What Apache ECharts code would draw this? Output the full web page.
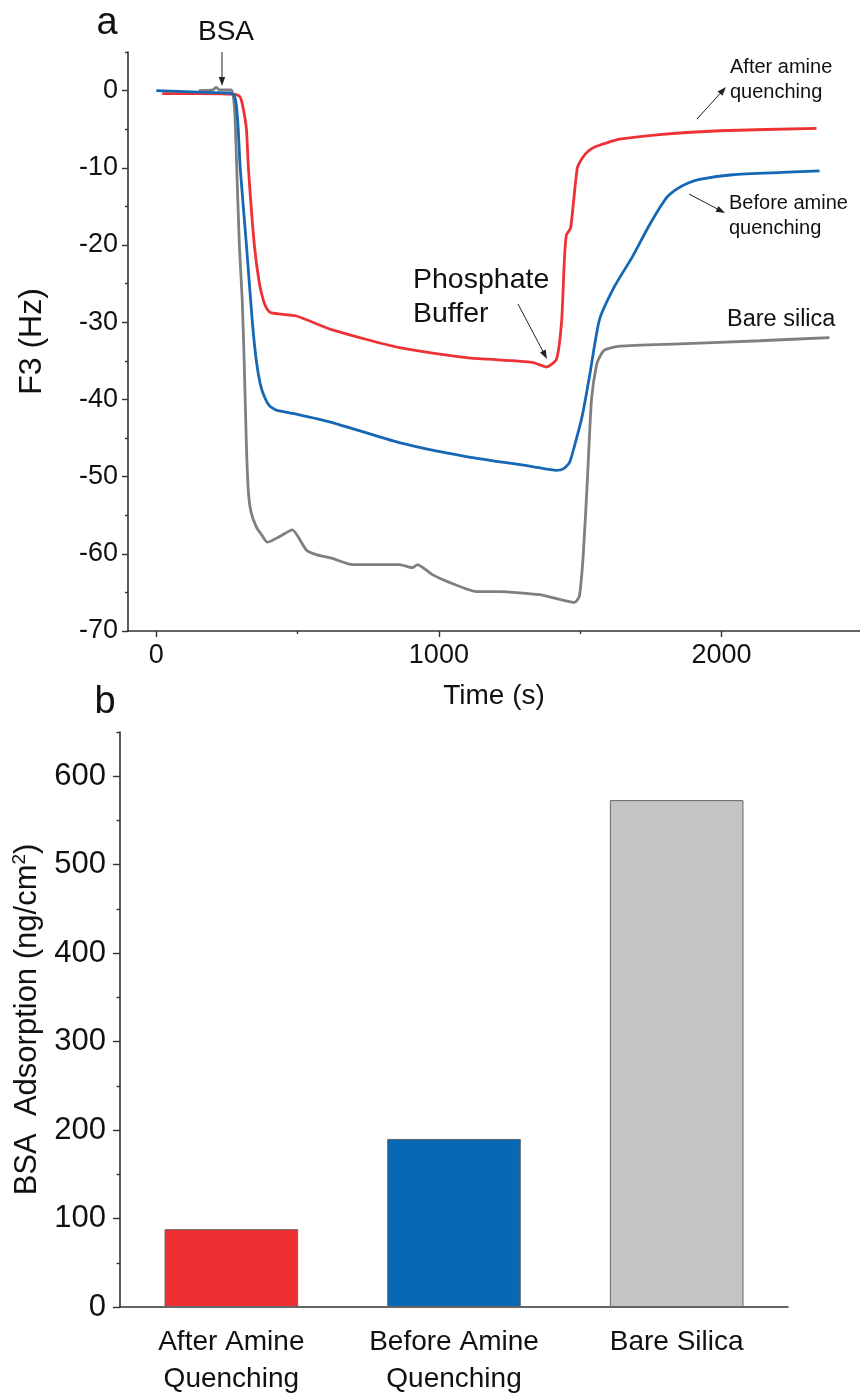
<!DOCTYPE html>
<html>
<head>
<meta charset="utf-8">
<script src="https://cdn.jsdelivr.net/npm/echarts@6/dist/echarts.min.js"></script>
<style>
  html, body { margin: 0; padding: 0; background: #fff; }
  #main { width: 860px; height: 1399px; }
</style>
</head>
<body>
<div id="main"></div>
<script>
// panel a: QCM-D frequency shift, time (s) vs F3 (Hz)
var redTime  = [21, 152, 280, 296, 306, 319, 326, 347, 365, 380, 392, 407, 496, 623, 860, 1097, 1331, 1381, 1416, 1434, 1444, 1451, 1466, 1490, 1510, 1530, 1551, 1600, 1639, 1781, 1993, 2336];
var redF3    = [-0.4, -0.4, -0.5, -0.8, -2.0, -5, -10, -20, -25, -27.3, -28.3, -28.8, -29.2, -31, -33.3, -34.6, -35.2, -35.8, -34.8, -30, -22, -18.7, -17.8, -10, -8.6, -7.8, -7.3, -6.7, -6.3, -5.7, -5.2, -4.9];

var blueTime = [0, 152, 258, 275, 283, 290, 297, 319, 340, 354, 368, 382, 400, 425, 496, 623, 860, 1097, 1331, 1416, 1440, 1462, 1480, 1508, 1533, 1568, 1621, 1685, 1745, 1805, 1840, 1880, 1922, 2039, 2216, 2347];
var blueF3   = [0, -0.2, -0.3, -0.6, -1.8, -5, -10, -20, -30, -35, -38, -39.6, -40.8, -41.4, -41.9, -43, -45.6, -47.4, -48.7, -49.2, -49.0, -48.2, -46, -42, -37, -29.7, -25.4, -21.5, -17.4, -13.9, -12.8, -12.0, -11.5, -10.9, -10.6, -10.4];

var grayTime = [150, 200, 212, 223, 265, 272, 278, 283, 294, 304, 311, 319, 326, 336, 354, 372, 393, 435, 481, 531, 566, 623, 694, 860, 906, 924, 977, 1037, 1133, 1214, 1356, 1427, 1480, 1497, 1511, 1526, 1540, 1558, 1572, 1586, 1639, 1851, 2135, 2382];
var grayF3   = [0, 0.1, 0.4, 0.1, 0.1, -0.6, -3, -8, -20, -27, -35, -46, -52, -54.7, -56.5, -57.5, -58.5, -57.8, -56.9, -59.5, -60.1, -60.6, -61.4, -61.4, -61.8, -61.4, -62.7, -63.7, -64.9, -64.9, -65.3, -65.9, -66.3, -65.5, -60, -50, -40, -35.5, -34.3, -33.6, -33.1, -32.8, -32.4, -32.0];

var xTicks = [0, 1000, 2000];
var xMinorTicks = [500, 1500];
var yTicks = [-70, -60, -50, -40, -30, -20, -10, 0];
var yMinorTicks = [-65, -55, -45, -35, -25, -15, -5, 5];

// panel b: BSA adsorption
var categories = ['After Amine\nQuenching', 'Before Amine\nQuenching', 'Bare Silica'];
var adsorption = [88, 190, 573];
var barColors = ['#ee3033', '#0868b3', '#c4c4c4'];
var bTicks = [0, 100, 200, 300, 400, 500, 600];
var bMinorTicks = [50, 150, 250, 350, 450, 550, 650];

var FONT = "'Liberation Sans', Arial, sans-serif";
var AXIS = '#333';

function pairs(xs, ys) {
  var out = [];
  for (var i = 0; i < xs.length; i++) out.push([xs[i], ys[i]]);
  return out;
}

function plain(v) { return String(v); }

function arrow(x1, y1, x2, y2) {
  var ang = Math.atan2(y2 - y1, x2 - x1), L = 9, W = 3.2;
  var bx = x2 - L * Math.cos(ang), by = y2 - L * Math.sin(ang);
  var px = -Math.sin(ang) * W, py = Math.cos(ang) * W;
  return [
    { type: 'line', shape: { x1: x1, y1: y1, x2: bx, y2: by }, style: { stroke: '#222', lineWidth: 1 } },
    { type: 'polygon', shape: { points: [[x2, y2], [bx + px, by + py], [bx - px, by - py]] }, style: { fill: '#222' } }
  ];
}

function txt(x, y, s, size, align, lh) {
  return {
    type: 'text', x: x, y: y,
    style: { text: s, fontSize: size, fontFamily: FONT, fill: '#111',
             textAlign: align || 'left', textVerticalAlign: 'middle', lineHeight: lh || size * 1.2 }
  };
}

var chart = echarts.init(document.getElementById('main'));

var graphics = [
  txt(107, 24, 'a', 38, 'center'),
  txt(105, 703, 'b', 38, 'center'),
  txt(226, 32, 'BSA', 28, 'center'),
  txt(730, 80, 'After amine\nquenching', 20, 'left', 25),
  txt(729, 216, 'Before amine\nquenching', 20, 'left', 25),
  txt(727, 320, 'Bare silica', 23.5, 'left'),
  txt(413, 297, 'Phosphate\nBuffer', 28.5, 'left', 34)
];
graphics = graphics
  .concat(arrow(222, 52, 222, 86))
  .concat(arrow(697, 119, 726, 87))
  .concat(arrow(689, 194, 725, 213))
  .concat(arrow(518, 304, 547, 359));

var lineStyleOf = function (c) { return { color: c, width: 2.8 }; };

var option = {
  animation: false,
  backgroundColor: '#fff',
  textStyle: { fontFamily: FONT },
  grid: [
    { left: 128, right: 0, top: 52, height: 579 },
    { left: 120, right: 72, top: 732, height: 575 }
  ],
  xAxis: [
    {
      gridIndex: 0, type: 'value', min: -100, max: 2490, position: 'bottom',
      name: 'Time (s)', nameLocation: 'middle', nameGap: 51,
      nameTextStyle: { fontSize: 28, color: '#111', fontFamily: FONT },
      splitLine: { show: false },
      axisLine: { onZero: false, lineStyle: { color: AXIS, width: 1.6 } },
      axisTick: { customValues: xTicks, length: 6, lineStyle: { color: AXIS, width: 1.4 } },
      axisLabel: { customValues: xTicks, formatter: plain, fontSize: 27, color: '#111', margin: 11, fontFamily: FONT }
    },
    {
      gridIndex: 0, type: 'value', min: -100, max: 2490, position: 'bottom',
      splitLine: { show: false }, axisLine: { show: false, onZero: false }, axisLabel: { show: false },
      axisTick: { customValues: xMinorTicks, length: 3, lineStyle: { color: AXIS, width: 1.4 } }
    },
    {
      gridIndex: 1, type: 'category', data: categories, position: 'bottom',
      axisLine: { onZero: false, lineStyle: { color: AXIS, width: 1.6 } },
      axisTick: { alignWithLabel: false, length: 3, lineStyle: { color: AXIS, width: 1.4 } },
      axisLabel: { fontSize: 28, color: '#111', margin: 17, lineHeight: 37, fontFamily: FONT }
    },
    {
      gridIndex: 1, type: 'category', data: categories, position: 'bottom',
      axisLine: { show: false, onZero: false }, axisLabel: { show: false },
      axisTick: { alignWithLabel: true, length: 6, lineStyle: { color: AXIS, width: 1.4 } }
    }
  ],
  yAxis: [
    {
      gridIndex: 0, type: 'value', min: -70, max: 5, position: 'left',
      name: 'F3 (Hz)', nameLocation: 'middle', nameGap: 80,
      nameTextStyle: { fontSize: 32, color: '#111', fontFamily: FONT },
      splitLine: { show: false },
      axisLine: { show: true, onZero: false, lineStyle: { color: AXIS, width: 1.6 } },
      axisTick: { show: true, customValues: yTicks, length: 6, lineStyle: { color: AXIS, width: 1.4 } },
      axisLabel: { customValues: yTicks, formatter: plain, fontSize: 27, color: '#111', margin: 10, fontFamily: FONT }
    },
    {
      gridIndex: 0, type: 'value', min: -70, max: 5, position: 'left',
      splitLine: { show: false }, axisLine: { show: false, onZero: false }, axisLabel: { show: false },
      axisTick: { show: true, customValues: yMinorTicks, length: 3, lineStyle: { color: AXIS, width: 1.4 } }
    },
    {
      gridIndex: 1, type: 'value', min: 0, max: 650, position: 'left',
      name: 'BSA  Adsorption (ng/cm{sup|2})', nameLocation: 'middle', nameGap: 72,
      nameTextStyle: { fontSize: 31, color: '#111', fontFamily: FONT,
        rich: { sup: { fontSize: 19, verticalAlign: 'top', padding: [0, 0, 16, 0], fontFamily: FONT, color: '#111' } } },
      splitLine: { show: false },
      axisLine: { show: true, onZero: false, lineStyle: { color: AXIS, width: 1.6 } },
      axisTick: { show: true, customValues: bTicks, length: 7, lineStyle: { color: AXIS, width: 1.4 } },
      axisLabel: { customValues: bTicks, formatter: plain, fontSize: 31, color: '#111', margin: 14, fontFamily: FONT }
    },
    {
      gridIndex: 1, type: 'value', min: 0, max: 650, position: 'left',
      splitLine: { show: false }, axisLine: { show: false, onZero: false }, axisLabel: { show: false },
      axisTick: { show: true, customValues: bMinorTicks, length: 3.5, lineStyle: { color: AXIS, width: 1.4 } }
    }
  ],
  series: [
    { name: 'After amine quenching', type: 'line', xAxisIndex: 0, yAxisIndex: 0, showSymbol: false,
      smooth: 0.2, lineStyle: lineStyleOf('#ee3135'), color: '#ee3135', data: pairs(redTime, redF3) },
    { name: 'Bare silica', type: 'line', xAxisIndex: 0, yAxisIndex: 0, showSymbol: false,
      smooth: 0.2, lineStyle: lineStyleOf('#7f7f7f'), color: '#7f7f7f', data: pairs(grayTime, grayF3) },
    { name: 'Before amine quenching', type: 'line', xAxisIndex: 0, yAxisIndex: 0, showSymbol: false,
      smooth: 0.2, lineStyle: lineStyleOf('#1668b5'), color: '#1668b5', data: pairs(blueTime, blueF3) },
    { name: 'BSA adsorption', type: 'bar', xAxisIndex: 2, yAxisIndex: 2, barWidth: '60%',
      data: adsorption.map(function (v, i) {
        return { value: v, itemStyle: { color: barColors[i], borderColor: '#666', borderWidth: 1 } };
      }) }
  ],
  graphic: graphics
};

chart.setOption(option);
</script>
</body>
</html>
